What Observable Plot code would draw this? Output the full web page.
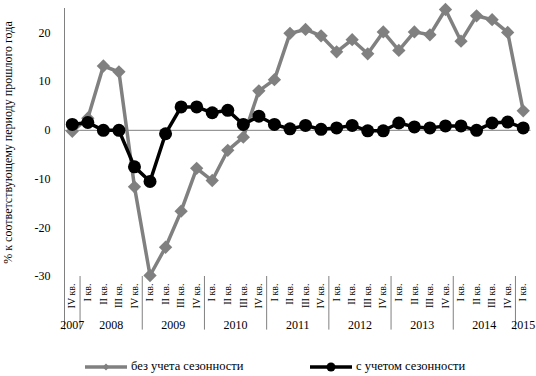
<!DOCTYPE html>
<html><head><meta charset="utf-8">
<script src="https://cdn.jsdelivr.net/npm/d3@7"></script>
<script src="https://cdn.jsdelivr.net/npm/@observablehq/plot@0.6"></script>
<style>
body{margin:0;background:#fff;font-family:"Liberation Serif","Times New Roman",serif;}
#wrap{position:relative;width:536px;height:376px;overflow:hidden;}
#wrap svg{display:block;}
.leg{position:absolute;top:359px;display:flex;align-items:center;font-size:12.5px;color:#000;white-space:nowrap;}
.leg svg{margin-right:3px;}
</style></head><body><div id="wrap"></div>
<script>
const quarterLabels = [
  "IV кв.",
  "I кв.","II кв.","III кв.","IV кв.",
  "I кв.","II кв.","III кв.","IV кв.",
  "I кв.","II кв.","III кв.","IV кв.",
  "I кв.","II кв.","III кв.","IV кв.",
  "I кв.","II кв.","III кв.","IV кв.",
  "I кв.","II кв.","III кв.","IV кв.",
  "I кв.","II кв.","III кв.","IV кв.",
  "I кв."
];
const yearLabels = ["2007","2008","2009","2010","2011","2012","2013","2014","2015"];
const quartersPerYear = [1,4,4,4,4,4,4,4,1];
const seriesNames = ["без учета сезонности","с учетом сезонности"];
const noSeason = [-0.2, 2.5, 13.2, 12.0, -11.6, -29.8, -24.0, -16.6, -7.8, -10.3, -4.1, -1.4, 8.1, 10.4, 19.9, 20.7, 19.4, 16.1, 18.6, 15.7, 20.2, 16.4, 20.2, 19.6, 24.8, 18.3, 23.5, 22.7, 20.1, 4.0];
const withSeason = [1.2, 1.6, 0.0, 0.0, -7.5, -10.5, -0.7, 4.8, 4.8, 3.6, 4.1, 1.2, 2.9, 1.2, 0.3, 1.0, 0.2, 0.5, 1.0, -0.1, -0.1, 1.5, 0.7, 0.5, 0.9, 0.9, 0.0, 1.5, 1.7, 0.5];
const yTicks = [-30,-20,-10,0,10,20];
const yTitle = "% к соответствующему периоду прошлого года";

const d1 = noSeason.map((v,i)=>({i, v}));
const d2 = withSeason.map((v,i)=>({i, v}));
const qData = quarterLabels.map((q,i)=>({i, q}));
let start = 0;
const yearData = [];
const bounds = [-0.5];
yearLabels.forEach((y,k)=>{
  const n = quartersPerYear[k];
  yearData.push({x: start + (n-1)/2, y});
  start += n;
  bounds.push(start - 0.5);
});
const sepBounds = bounds.slice(1, -1);

const yMin = -30, yMax = 25, yLow = -41;
const font = "Liberation Serif, Times New Roman, serif";

const chart = Plot.plot({
  width: 536, height: 345,
  marginLeft: 64, marginRight: 5.5, marginTop: 8, marginBottom: 69,
  style: {fontFamily: font, fontSize: "12px", color: "#000", background: "#fff"},
  x: {domain: [-0.5, 29.5], axis: null},
  y: {domain: [yMin, yMax], axis: null},
  marks: [
    Plot.ruleY([0], {stroke: "#808080", strokeWidth: 1}),
    Plot.ruleX([-0.5], {y1: yMax, y2: yLow, stroke: "#808080", strokeWidth: 1}),
    Plot.ruleX(sepBounds, {y1: yMin, y2: yLow, stroke: "#808080", strokeWidth: 1}),
    Plot.axisY({ticks: yTicks, tickSize: 0, tickPadding: 14, tickFormat: d => String(d), fontSize: 12, fontFamily: font, label: null}),
    Plot.text([yTitle], {text: d => d, frameAnchor: "left", textAnchor: "middle", dx: -56, rotate: -90, fontSize: 12, fontFamily: font, fill: "#000"}),
    Plot.line(d1, {x: "i", y: "v", stroke: "#808080", strokeWidth: 3.5}),
    Plot.dot(d1, {x: "i", y: "v", symbol: "diamond2", r: 6, fill: "#808080", stroke: "none"}),
    Plot.line(d2, {x: "i", y: "v", stroke: "#000", strokeWidth: 3.5}),
    Plot.dot(d2, {x: "i", y: "v", symbol: "circle", r: 6.5, fill: "#000", stroke: "none"}),
    Plot.text(qData, {x: "i", y: () => yMin, text: "q", rotate: -90, textAnchor: "end", dy: 7, fontSize: 10, fontFamily: font, fill: "#000"}),
    Plot.text(yearData, {x: "x", y: () => yMin, text: "y", dy: 49, fontSize: 12, fontFamily: font, fill: "#000"})
  ]
});
const wrap = document.getElementById("wrap");
wrap.appendChild(chart);

function legItem(left, name, color, sym) {
  const div = document.createElement("div");
  div.className = "leg";
  div.style.left = left + "px";
  const s = d3.create("svg").attr("width", 44).attr("height", 12);
  s.append("line").attr("x1", 1).attr("x2", 43).attr("y1", 6).attr("y2", 6).attr("stroke", color).attr("stroke-width", 3.5);
  if (sym === "diamond") {
    s.append("path").attr("d", "M22,2.5L25.5,6L22,9.5L18.5,6Z").attr("fill", color);
  } else {
    s.append("circle").attr("cx", 22).attr("cy", 6).attr("r", 4.5).attr("fill", color);
  }
  div.appendChild(s.node());
  const t = document.createElement("span");
  t.textContent = name;
  div.appendChild(t);
  wrap.appendChild(div);
}
legItem(84, seriesNames[0], "#808080", "diamond");
legItem(309, seriesNames[1], "#000", "circle");
</script>
</body></html>
